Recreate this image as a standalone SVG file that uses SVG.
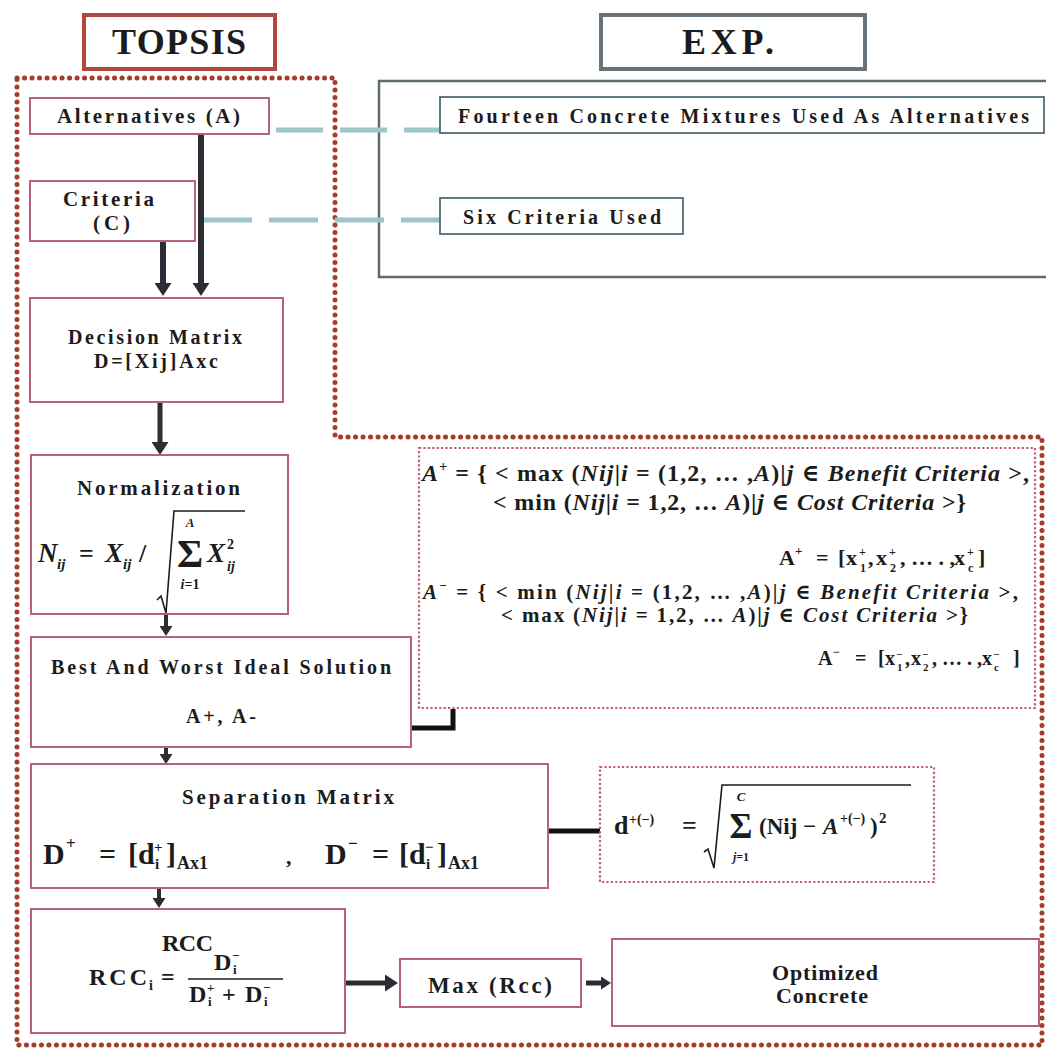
<svg xmlns="http://www.w3.org/2000/svg" width="1046" height="1052" viewBox="0 0 1046 1052">
<defs>
<style>
.node{fill:#ffffff;stroke:#b5627a;stroke-width:2}
.lbl{font-family:"Liberation Serif","DejaVu Serif",serif;font-weight:bold;fill:#1c1c1c}
.fm{font-family:"Liberation Serif","DejaVu Serif",serif;font-weight:bold;fill:#1c1c1c}
.it{font-style:italic}
.mid{text-anchor:middle}
.exp{fill:#ffffff;stroke:#4f6c78;stroke-width:1.8}
.arrow{stroke:#2c2c34;fill:none}
.dash{stroke:#9ec6ca;stroke-width:5;fill:none}
.thick{stroke:#111111;stroke-width:5;fill:none}
.pinkdot{fill:none;stroke:#c4587e;stroke-width:2.2;stroke-dasharray:2.2 2.2}
</style>
<marker id="ah" markerUnits="userSpaceOnUse" markerWidth="13" markerHeight="17" refX="1" refY="8.5" orient="auto">
<path d="M0,0 L13,8.5 L0,17 z" fill="#2c2c34"/>
</marker>
<marker id="ahs" markerUnits="userSpaceOnUse" markerWidth="10" markerHeight="13" refX="1" refY="6.5" orient="auto">
<path d="M0,0 L10,6.5 L0,13 z" fill="#2c2c34"/>
</marker>
</defs>
<rect x="0" y="0" width="1046" height="1052" fill="#ffffff"/>

<g id="exp-frame">
<rect x="379" y="81" width="720" height="196" fill="none" stroke="#5d6b71" stroke-width="2.5"/>
</g>

<g id="topsis-frame">
<path d="M17,78 H335 V437 H1042 V1045 H17 Z" fill="none" stroke="#a83a2c" stroke-width="5" stroke-dasharray="0.1 7.4" stroke-linecap="round"/>
</g>

<g id="topsis-header">
<rect x="84" y="15" width="191" height="54" fill="#ffffff" stroke="#b3473b" stroke-width="4"/>
<text class="lbl" x="112" y="54" font-size="36" textLength="134" lengthAdjust="spacing">TOPSIS</text>
</g>

<g id="exp-header">
<rect x="601" y="15" width="264" height="54" fill="#ffffff" stroke="#65737a" stroke-width="4"/>
<text class="lbl" x="682" y="54" font-size="36" textLength="92" lengthAdjust="spacing">EXP.</text>
</g>

<g id="connectors">
<line class="dash" x1="276" y1="130" x2="440" y2="130" stroke-dasharray="47 17"/>
<line class="dash" x1="203" y1="220" x2="440" y2="220" stroke-dasharray="49 17"/>
<line class="arrow" x1="201" y1="134" x2="201" y2="284" stroke-width="6" marker-end="url(#ah)"/>
<line class="arrow" x1="163" y1="241" x2="163" y2="284" stroke-width="6" marker-end="url(#ah)"/>
<line class="arrow" x1="160" y1="402" x2="160" y2="443" stroke-width="5" marker-end="url(#ah)"/>
<line class="arrow" x1="166" y1="614" x2="166" y2="627" stroke-width="4" marker-end="url(#ahs)"/>
<line class="arrow" x1="166" y1="747" x2="166" y2="755" stroke-width="4" marker-end="url(#ahs)"/>
<line class="arrow" x1="159" y1="888" x2="159" y2="899" stroke-width="4" marker-end="url(#ahs)"/>
<line class="arrow" x1="345" y1="983" x2="386" y2="983" stroke-width="5" marker-end="url(#ah)"/>
<line class="arrow" x1="586" y1="983" x2="602" y2="983" stroke-width="5" marker-end="url(#ahs)"/>
<path class="thick" d="M411,728 H453 V709"/>
<path class="thick" d="M548,831 H600"/>
</g>

<g id="alternatives">
<rect class="node" x="30" y="98" width="239" height="36"/>
<text class="lbl" x="57" y="123" font-size="21" textLength="183" lengthAdjust="spacing">Alternatives (A)</text>
</g>

<g id="criteria">
<rect class="node" x="30" y="181" width="165" height="60"/>
<text class="lbl" x="63" y="206" font-size="21" textLength="91" lengthAdjust="spacing">Criteria</text>
<text class="lbl" x="93" y="230" font-size="21" textLength="37" lengthAdjust="spacing">(C)</text>
</g>

<g id="fourteen">
<rect class="exp" x="440" y="97" width="604" height="36"/>
<text class="lbl" x="458" y="123" font-size="20" textLength="571" lengthAdjust="spacing">Fourteen Concrete Mixtures Used As Alternatives</text>
</g>

<g id="six-criteria">
<rect class="exp" x="440" y="198" width="243" height="36"/>
<text class="lbl" x="463" y="224" font-size="20" textLength="198" lengthAdjust="spacing">Six Criteria Used</text>
</g>

<g id="decision-matrix">
<rect class="node" x="30" y="298" width="253" height="104"/>
<text class="lbl" x="68" y="344" font-size="20" textLength="174" lengthAdjust="spacing">Decision Matrix</text>
<text class="lbl" x="94" y="368" font-size="20" textLength="124" lengthAdjust="spacing">D=[Xij]Axc</text>
</g>

<g id="normalization">
<rect class="node" x="31" y="455" width="257" height="159"/>
<text class="lbl" x="77" y="495" font-size="21" textLength="163" lengthAdjust="spacing">Normalization</text>
<text class="fm it" x="38" y="562" font-size="27">N</text>
<text class="fm it" x="57" y="569" font-size="15">ij</text>
<text class="fm" x="79" y="562" font-size="26">=</text>
<text class="fm it" x="105" y="562" font-size="27">X</text>
<text class="fm it" x="123" y="569" font-size="15">ij</text>
<text class="fm" x="139" y="562" font-size="26">/</text>
<path d="M157,600 L161,596 L166,613 L174,511 L245,511" fill="none" stroke="#1c1c1c" stroke-width="1.6"/>
<text class="fm it mid" x="190" y="527" font-size="13">A</text>
<text class="fm mid" x="190" y="567" font-size="40">Σ</text>
<text class="fm mid" x="190" y="589" font-size="14"><tspan class="it">i</tspan>=1</text>
<text class="fm it" x="207" y="562" font-size="27">X</text>
<text class="fm" x="227" y="549" font-size="14">2</text>
<text class="fm it" x="227" y="571" font-size="14">ij</text>
</g>

<g id="best-worst">
<rect class="node" x="31" y="637" width="380" height="110"/>
<text class="lbl" x="51" y="674" font-size="20" textLength="340" lengthAdjust="spacing">Best And Worst Ideal Solution</text>
<text class="lbl" x="186" y="723" font-size="20" textLength="70" lengthAdjust="spacing">A+, A-</text>
</g>

<g id="ideal-formula">
<rect class="pinkdot" x="419" y="448" width="616" height="260"/>
<text class="fm" x="422" y="481" font-size="24" textLength="607" lengthAdjust="spacing"><tspan class="it">A</tspan><tspan dy="-10" font-size="14">+</tspan><tspan dy="10"> = { &lt; max (</tspan><tspan class="it">Nij</tspan>|<tspan class="it">i</tspan> = (1,2, … ,<tspan class="it">A</tspan>)|<tspan class="it">j</tspan> ∈ <tspan class="it">Benefit Criteria</tspan> &gt;,</text>
<text class="fm" x="493" y="510" font-size="24" textLength="473" lengthAdjust="spacing">&lt; min (<tspan class="it">Nij</tspan>|<tspan class="it">i</tspan> = 1,2, … <tspan class="it">A</tspan>)|<tspan class="it">j</tspan> ∈ <tspan class="it">Cost Criteria</tspan> &gt;}</text>
<text class="fm" font-size="22"><tspan x="779" y="565">A</tspan><tspan x="795" y="555" font-size="13">+</tspan><tspan x="816" y="565">=</tspan><tspan x="838" y="565">[</tspan><tspan x="846" y="565">x</tspan><tspan x="859" y="556" font-size="12">+</tspan><tspan x="860" y="572" font-size="12">1</tspan><tspan x="868" y="565">,</tspan><tspan x="876" y="565">x</tspan><tspan x="889" y="556" font-size="12">+</tspan><tspan x="890" y="572" font-size="12">2</tspan><tspan x="900" y="565">, … . ,</tspan><tspan x="954" y="565">x</tspan><tspan x="967" y="556" font-size="12">+</tspan><tspan x="968" y="572" font-size="12">c</tspan><tspan x="978" y="565">]</tspan></text>
<text class="fm" x="423" y="599" font-size="21" textLength="595" lengthAdjust="spacing"><tspan class="it">A</tspan><tspan dy="-9" font-size="13">−</tspan><tspan dy="9"> = { &lt; min  (</tspan><tspan class="it">Nij</tspan>|<tspan class="it">i</tspan> = (1,2, … ,<tspan class="it">A</tspan>)|<tspan class="it">j</tspan> ∈ <tspan class="it">Benefit Criteria</tspan> &gt;,</text>
<text class="fm" x="501" y="622" font-size="21" textLength="467" lengthAdjust="spacing">&lt; max (<tspan class="it">Nij</tspan>|<tspan class="it">i</tspan> = 1,2, … <tspan class="it">A</tspan>)|<tspan class="it">j</tspan> ∈ <tspan class="it">Cost Criteria</tspan> &gt;}</text>
<text class="fm" font-size="20"><tspan x="818" y="665">A</tspan><tspan x="833" y="656" font-size="12">−</tspan><tspan x="855" y="665">=</tspan><tspan x="878" y="665">[</tspan><tspan x="885" y="665">x</tspan><tspan x="896" y="658" font-size="11">−</tspan><tspan x="897" y="671" font-size="11">1</tspan><tspan x="905" y="665">,</tspan><tspan x="911" y="665">x</tspan><tspan x="922" y="658" font-size="11">−</tspan><tspan x="923" y="671" font-size="11">2</tspan><tspan x="932" y="665">, … . ,</tspan><tspan x="982" y="665">x</tspan><tspan x="993" y="658" font-size="11">−</tspan><tspan x="994" y="671" font-size="11">c</tspan><tspan x="1013" y="665">]</tspan></text>
</g>

<g id="separation">
<rect class="node" x="31" y="764" width="517" height="124"/>
<text class="lbl" x="182" y="804" font-size="21" textLength="212" lengthAdjust="spacing">Separation Matrix</text>
<text class="fm" font-size="30"><tspan x="43" y="864">D</tspan><tspan x="66" y="849" font-size="17">+</tspan><tspan x="99" y="864">=</tspan><tspan x="128" y="864">[d</tspan><tspan x="154" y="852" font-size="15">+</tspan><tspan x="155" y="869" font-size="15">i</tspan><tspan x="166" y="864">]</tspan><tspan x="177" y="869" font-size="18">Ax1</tspan><tspan x="286" y="864" font-size="22">,</tspan><tspan x="325" y="864">D</tspan><tspan x="348" y="849" font-size="17">−</tspan><tspan x="372" y="864">=</tspan><tspan x="399" y="864">[d</tspan><tspan x="425" y="852" font-size="15">−</tspan><tspan x="426" y="869" font-size="15">i</tspan><tspan x="437" y="864">]</tspan><tspan x="448" y="869" font-size="18">Ax1</tspan></text>
</g>

<g id="distance-formula">
<rect class="pinkdot" x="600" y="767" width="334" height="115" stroke-width="1.6" stroke="#d07a92"/>
<text class="fm" font-size="26"><tspan x="614" y="834">d</tspan><tspan x="629" y="824" font-size="14">+(−)</tspan><tspan x="682" y="834">=</tspan></text>
<path d="M704,852 L708,849 L714,868 L722,785 L911,785" fill="none" stroke="#1c1c1c" stroke-width="1.6"/>
<text class="fm it mid" x="741" y="801" font-size="13">C</text>
<text class="fm mid" x="741" y="838" font-size="35">Σ</text>
<text class="fm mid" x="741" y="861" font-size="12"><tspan class="it">j</tspan>=1</text>
<text class="fm" font-size="23"><tspan x="759" y="834">(Nij −</tspan><tspan class="it" x="823" y="834">A</tspan><tspan x="840" y="823" font-size="14">+(−)</tspan><tspan x="870" y="834">)</tspan><tspan x="879" y="823" font-size="15">2</tspan></text>
</g>

<g id="rcc">
<rect class="node" x="31" y="909" width="314" height="124"/>
<text class="lbl" x="162" y="951" font-size="24" textLength="51" lengthAdjust="spacing">RCC</text>
<text class="fm" x="89" y="985" font-size="24" textLength="58" lengthAdjust="spacing">RCC</text>
<text class="fm" font-size="24"><tspan x="149" y="990" font-size="14">i</tspan><tspan x="161" y="985">=</tspan></text>
<line x1="188" y1="979" x2="283" y2="979" stroke="#1c1c1c" stroke-width="1.6"/>
<text class="fm" font-size="24"><tspan x="214" y="970">D</tspan><tspan x="232" y="960" font-size="13">−</tspan><tspan x="233" y="974" font-size="13">i</tspan></text>
<text class="fm" font-size="24"><tspan x="189" y="1002">D</tspan><tspan x="207" y="992" font-size="13">+</tspan><tspan x="208" y="1006" font-size="13">i</tspan><tspan x="222" y="1002">+</tspan><tspan x="245" y="1002">D</tspan><tspan x="263" y="992" font-size="13">−</tspan><tspan x="264" y="1006" font-size="13">i</tspan></text>
</g>

<g id="max-rcc">
<rect class="node" x="400" y="959" width="181" height="48"/>
<text class="lbl" x="428" y="993" font-size="23" textLength="124" lengthAdjust="spacing">Max (Rcc)</text>
</g>

<g id="optimized">
<rect class="node" x="612" y="939" width="427" height="87" stroke="#9a5466"/>
<text class="lbl" x="772" y="980" font-size="22" textLength="106" lengthAdjust="spacing">Optimized</text>
<text class="lbl" x="776" y="1003" font-size="22" textLength="92" lengthAdjust="spacing">Concrete</text>
</g>
</svg>
